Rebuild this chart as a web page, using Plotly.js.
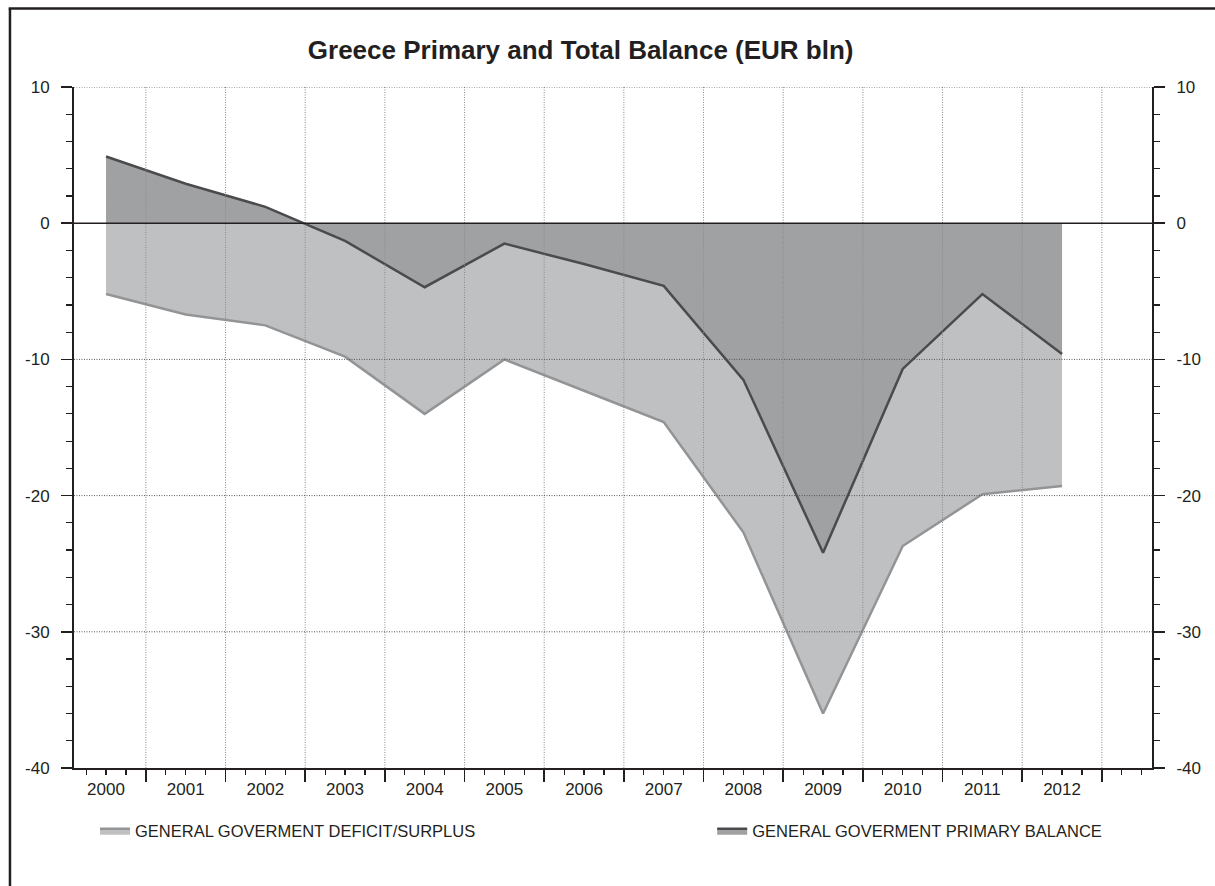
<!DOCTYPE html>
<html>
<head>
<meta charset="utf-8">
<script src="https://cdn.plot.ly/plotly-3.0.1.min.js"></script>
<style>html,body{margin:0;padding:0;background:#fff;overflow:hidden;}#chart{width:1215px;height:886px;}</style>
</head>
<body>
<div id="chart"></div>
<script>
// ---- data (EUR bln) ----
var years = [2000, 2001, 2002, 2003, 2004, 2005, 2006, 2007, 2008, 2009, 2010, 2011, 2012];
var yearLabels = ['2000','2001','2002','2003','2004','2005','2006','2007','2008','2009','2010','2011','2012'];
var deficitSurplus = [-5.2, -6.7, -7.5, -9.8, -14.0, -10.0, -12.3, -14.6, -22.7, -36.0, -23.7, -19.9, -19.3];
var primaryBalance = [4.9, 2.9, 1.2, -1.3, -4.7, -1.5, -3.0, -4.6, -11.5, -24.2, -10.7, -5.2, -9.6];
var yTickVals = [-40, -30, -20, -10, 0, 10];
var yTickText = ['-40', '-30', '-20', '-10', '0', '10'];
var seriesNames = ['GENERAL GOVERMENT DEFICIT/SURPLUS', 'GENERAL GOVERMENT PRIMARY BALANCE'];

var FONT = 'Liberation Sans, Arial, Helvetica, sans-serif';
var INK = '#231f20';

var boundaries = years.map(function (y) { return y + 0.5; });
var xRange = [1999.598, 2013.129];

var traces = [
  {
    x: years, y: deficitSurplus, name: seriesNames[0], type: 'scatter', mode: 'lines',
    fill: 'tozeroy', fillcolor: '#bfc0c2', line: {color: '#939496', width: 2.5},
    xaxis: 'x', yaxis: 'y', legend: 'legend', hoverinfo: 'x+y'
  },
  {
    x: years, y: primaryBalance, name: seriesNames[1], type: 'scatter', mode: 'lines',
    fill: 'tozeroy', fillcolor: '#a0a1a3', line: {color: '#4b4b4d', width: 2.5},
    xaxis: 'x2', yaxis: 'y2', legend: 'legend2', hoverinfo: 'x+y'
  }
];

// gridlines drawn above the fills (as in the reference)
var shapes = [];
boundaries.forEach(function (b) {
  shapes.push({type: 'line', xref: 'x', yref: 'paper', x0: b, x1: b, y0: 0, y1: 1,
    line: {color: '#8a8a8a', width: 1, dash: '1px,1.5px'}, layer: 'above'});
});
yTickVals.forEach(function (v) {
  if (v === 0 || v === yTickVals[0]) return;
  shapes.push({type: 'line', xref: 'paper', yref: 'y', x0: 0, x1: 1, y0: v, y1: v,
    line: {color: '#555', width: 1, dash: '1px,1.5px'}, layer: 'above'});
});
shapes.push({type: 'line', xref: 'paper', yref: 'y', x0: 0, x1: 1, y0: 0, y1: 0,
  line: {color: INK, width: 1.5}, layer: 'above'});
// outer frame (left and top edges only are visible in the reference)
shapes.push({type: 'line', xref: 'paper', yref: 'paper', x0: -0.0594, x1: -0.0594, y0: -0.2, y1: 1.1153,
  line: {color: INK, width: 2.5}, layer: 'above'});
shapes.push({type: 'line', xref: 'paper', yref: 'paper', x0: -0.0606, x1: 1.08, y0: 1.1153, y1: 1.1153,
  line: {color: INK, width: 2.5}, layer: 'above'});

var yCommon = {
  range: [-40, 10], tickmode: 'array', tickvals: yTickVals, ticktext: yTickText,
  ticks: 'outside', ticklen: 11, tickwidth: 1.5, tickcolor: INK,
  showline: true, linecolor: INK, linewidth: 2,
  showgrid: false, zeroline: false,
  ticklabelstandoff: 8,
  tickfont: {family: FONT, size: 17, color: INK},
  minor: {tickmode: 'linear', tick0: 0, dtick: 2, ticks: 'outside', ticklen: 6, tickwidth: 1.2, tickcolor: INK, showgrid: false},
  fixedrange: true
};

var layout = {
  width: 1215, height: 886,
  margin: {l: 74, r: 63, t: 87, b: 118, pad: 0},
  paper_bgcolor: '#ffffff', plot_bgcolor: '#ffffff',
  font: {family: FONT, color: INK},
  title: {
    text: 'Greece Primary and Total Balance (EUR bln)',
    font: {family: FONT, size: 26, color: INK, weight: 'bold'},
    x: 0.47, xanchor: 'center', xref: 'paper', y: 0.9436, yanchor: 'middle', yref: 'container'
  },
  xaxis: {
    range: xRange, tickmode: 'array', tickvals: boundaries, ticktext: boundaries.map(function () { return ''; }),
    ticks: 'outside', ticklen: 12, tickwidth: 1.5, tickcolor: INK,
    showline: true, linecolor: INK, linewidth: 1.5,
    showgrid: false, zeroline: false,
    minor: {tickmode: 'linear', tick0: 1999.5, dtick: 0.25, ticks: 'outside', ticklen: 5, tickwidth: 1.2, tickcolor: INK, showgrid: false},
    fixedrange: true
  },
  xaxis2: {
    overlaying: 'x', anchor: 'y', side: 'bottom', range: xRange,
    tickmode: 'array', tickvals: years, ticktext: yearLabels,
    ticks: 'outside', ticklen: 6, tickcolor: 'rgba(0,0,0,0)',
    showline: false, showgrid: false, zeroline: false,
    tickfont: {family: FONT, size: 17, color: INK},
    fixedrange: true
  },
  yaxis: Object.assign({}, yCommon, {side: 'left', anchor: 'x'}),
  yaxis2: Object.assign({}, yCommon, {side: 'right', anchor: 'x', overlaying: 'y'}),
  legend: {
    orientation: 'h', x: 0.0195, xanchor: 'left', y: -0.0925, yanchor: 'middle',
    font: {family: FONT, size: 16.5, color: INK}, bgcolor: 'rgba(0,0,0,0)'
  },
  legend2: {
    orientation: 'h', x: 0.592, xanchor: 'left', y: -0.0925, yanchor: 'middle',
    font: {family: FONT, size: 16.5, color: INK}, bgcolor: 'rgba(0,0,0,0)'
  },
  shapes: shapes,
  showlegend: true
};

Plotly.newPlot('chart', traces, layout, {displayModeBar: false, staticPlot: true});
</script>
</body>
</html>
